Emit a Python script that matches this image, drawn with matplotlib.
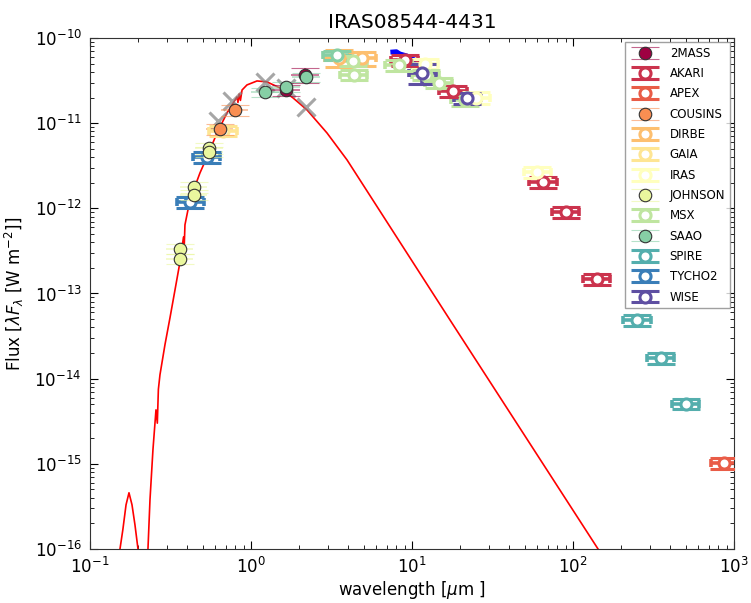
import numpy as np
import matplotlib
matplotlib.use("Agg")
import matplotlib.pyplot as plt
from matplotlib.ticker import FixedLocator, LogLocator, NullFormatter

# ---------------- data (wavelength in micron, flux in W m^-2) ----------------
names = ['2MASS', 'AKARI', 'APEX', 'COUSINS', 'DIRBE', 'GAIA', 'IRAS',
         'JOHNSON', 'MSX', 'SAAO', 'SPIRE', 'TYCHO2', 'WISE']

mass2_wl = [1.65, 2.16]
mass2_f = [2.45e-11, 3.68e-11]
mass2_e = [0.35e-11, 0.75e-11]

akari_wl = [9.0, 18.0, 65.0, 90.0, 140.0]
akari_f = [5.5e-11, 2.39e-11, 2.04e-12, 9.1e-13, 1.48e-13]
akari_e = [0.8e-11, 0.34e-11, 0.29e-12, 1.3e-13, 0.21e-13]

apex_wl = [870.0]
apex_f = [1.03e-15]
apex_e = [0.15e-15]

cousins_wl = [0.64, 0.79]
cousins_f = [8.55e-12, 1.43e-11]
cousins_e = [1.3e-12, 2.1e-12]

dirbe_wl = [3.5, 4.9]
dirbe_f = [5.9e-11, 5.8e-11]
dirbe_e = [1.3e-11, 1.1e-11]

gaia_wl = [0.67]
gaia_f = [8.1e-12]
gaia_e = [1.1e-12]

iras_wl = [12.0, 25.0, 60.0]
iras_f = [5.0e-11, 2.0e-11, 2.67e-12]
iras_e = [0.7e-11, 0.3e-11, 0.38e-12]

johnson_wl = [0.36, 0.36, 0.44, 0.44, 0.55, 0.55]
johnson_f = [3.33e-13, 2.55e-13, 1.78e-12, 1.44e-12, 5.1e-12, 4.6e-12]
johnson_e = [0.45e-13, 0.35e-13, 0.25e-12, 0.2e-12, 0.7e-12, 0.6e-12]

msx_wl = [4.29, 4.35, 8.28, 12.13, 14.65, 21.3]
msx_f = [5.4e-11, 3.68e-11, 4.8e-11, 3.7e-11, 2.96e-11, 1.87e-11]
msx_e = [0.75e-11, 0.5e-11, 0.65e-11, 0.5e-11, 0.4e-11, 0.26e-11]

saao_wl = [1.22, 1.65, 2.2]
saao_f = [2.32e-11, 2.66e-11, 3.48e-11]
saao_e = [0.3e-11, 0.35e-11, 0.45e-11]
saaoL_wl = [3.4]
saaoL_f = [6.3e-11]
saaoL_e = [0.8e-11]

spire_wl = [250.0, 350.0, 500.0]
spire_f = [4.9e-14, 1.75e-14, 5.06e-15]
spire_e = [0.7e-14, 0.25e-14, 0.7e-15]

tycho_wl = [0.42, 0.53]
tycho_f = [1.19e-12, 4.0e-12]
tycho_e = [0.17e-12, 0.55e-12]

wise_wl = [11.6, 22.1]
wise_f = [3.9e-11, 1.98e-11]
wise_e = [1.0e-11, 0.28e-11]

spec_wl = [7.6, 8.0, 8.4, 9.3, 10.4, 11.5]
spec_f = [6.85e-11, 6.9e-11, 6.5e-11, 6.15e-11, 5.5e-11, 4.7e-11]

synth_wl = [0.62, 0.76, 1.22, 1.65, 2.2]
synth_f = [1.06e-11, 1.82e-11, 3.05e-11, 2.6e-11, 1.55e-11]

model_wl = [0.149, 0.1536, 0.160, 0.1675, 0.1747, 0.1824, 0.1903, 0.1987,
            0.2045, 0.2228, 0.2292, 0.2359, 0.2461, 0.257, 0.262, 0.266,
            0.2721, 0.2922, 0.3141, 0.3373, 0.3624, 0.381, 0.385, 0.389,
            0.418, 0.482, 0.533, 0.615, 0.710, 0.819, 0.83, 0.845, 0.86,
            0.88, 0.944, 1.09, 1.257, 1.514, 1.824, 2.228, 2.965, 3.95,
            17.2, 143.0, 170.0]
model_f = [5e-17, 1.0e-16, 1.68e-16, 3.3e-16, 4.57e-16, 3.3e-16, 1.92e-16, 1.0e-16,
           5e-17, 5e-17, 1.0e-16, 3.78e-16, 1.46e-15, 4.3e-15, 3.0e-15, 7.5e-15,
           1.11e-14, 2.5e-14, 5.2e-14, 1.10e-13, 2.35e-13, 4.6e-13, 3.6e-13, 6.4e-13,
           1.26e-12, 2.6e-12, 4.0e-12, 7.67e-12, 1.32e-11, 2.03e-11, 1.75e-11, 2.2e-11, 1.85e-11,
           2.45e-11, 2.81e-11, 3.13e-11, 3.05e-11, 2.59e-11, 1.98e-11, 1.43e-11, 7.67e-12, 3.7e-12,
           4.9e-14, 1.0e-16, 6e-17]

x_major = [1e-1, 1e0, 1e1, 1e2, 1e3]
y_major = [1e-16, 1e-15, 1e-14, 1e-13, 1e-12, 1e-11, 1e-10]

# ---------------- figure ----------------
colors = dict(zip(names, plt.cm.Spectral(np.linspace(0, 1, len(names)))))

fig = plt.figure(figsize=(7.51, 6.03), dpi=100)
ax = fig.add_axes([0.1198, 0.0896, 0.8576, 0.8474])
ax.set_xscale('log')
ax.set_yscale('log')

DEX = 0.085  # half width of horizontal bars (style)


def xbars(wl):
    wl = np.asarray(wl)
    return [wl * (1 - 10 ** -DEX), wl * (10 ** DEX - 1)]


def open_series(name, wl, f, e, label=True):
    c = colors[name]
    ax.errorbar(wl, f, xerr=xbars(wl), fmt='none', ecolor=c, elinewidth=2.6,
                capsize=3.2, capthick=2.6, zorder=3)
    h = ax.errorbar(wl, f, yerr=e, fmt='o', color=c, mfc='white', mec=c,
                    mew=2.2, ms=8, elinewidth=2.6, capsize=10, capthick=2.6,
                    zorder=4, label=name if label else None)
    return h


def filled_series(name, wl, f, e):
    c = colors[name]
    ax.errorbar(wl, f, xerr=xbars(wl), fmt='none', ecolor=c, elinewidth=1.2,
                alpha=0.6, capsize=0, zorder=3)
    h = ax.errorbar(wl, f, yerr=e, fmt='o', color=c, mfc=c, mec='#333333',
                    mew=0.8, ms=9, elinewidth=1.2, capsize=10, capthick=1.2,
                    zorder=5, label=name)
    for l in h.lines[1]:
        l.set_alpha(0.6)
    for l in h.lines[2]:
        l.set_alpha(0.6)
    return h


ax.plot(model_wl, model_f, color='red', lw=1.2, zorder=2)
ax.plot(synth_wl, synth_f, 'x', color='gray', ms=13, mew=2.2, alpha=0.7, zorder=3)
ax.plot(spec_wl, spec_f, color='blue', lw=3.5, zorder=3)

filled_series('2MASS', mass2_wl, mass2_f, mass2_e)
open_series('AKARI', akari_wl, akari_f, akari_e)
open_series('APEX', apex_wl, apex_f, apex_e)
filled_series('COUSINS', cousins_wl, cousins_f, cousins_e)
open_series('DIRBE', dirbe_wl, dirbe_f, dirbe_e)
open_series('GAIA', gaia_wl, gaia_f, gaia_e)
open_series('IRAS', iras_wl, iras_f, iras_e)
filled_series('JOHNSON', johnson_wl, johnson_f, johnson_e)
open_series('MSX', msx_wl, msx_f, msx_e)
filled_series('SAAO', saao_wl, saao_f, saao_e)
open_series('SAAO', saaoL_wl, saaoL_f, saaoL_e, label=False)
open_series('SPIRE', spire_wl, spire_f, spire_e)
open_series('TYCHO2', tycho_wl, tycho_f, tycho_e)
open_series('WISE', wise_wl, wise_f, wise_e)

ax.set_xlim(0.1, 1000)
ax.set_ylim(1e-16, 1e-10)
ax.xaxis.set_major_locator(FixedLocator(x_major))
ax.yaxis.set_major_locator(FixedLocator(y_major))
ax.xaxis.set_minor_locator(LogLocator(base=10, subs=np.arange(2, 10), numticks=20))
ax.yaxis.set_minor_locator(LogLocator(base=10, subs=np.arange(2, 10), numticks=20))
ax.xaxis.set_minor_formatter(NullFormatter())
ax.yaxis.set_minor_formatter(NullFormatter())

ax.set_title('IRAS08544-4431', fontsize=14.5, pad=7)
ax.set_xlabel(r'wavelength [$\mu$m ]', fontsize=12, labelpad=1)
ax.set_ylabel(r'Flux [$\lambda F_{\lambda}$ [W m$^{-2}$]]', fontsize=12, labelpad=6)
ax.tick_params(which='both', direction='in', top=True, right=True, labelsize=12)
ax.tick_params(which='major', length=6, pad=6)
ax.tick_params(which='minor', length=3)
for s in ax.spines.values():
    s.set_color('#333333')

leg = ax.legend(loc='upper right', fontsize=8.5, labelspacing=0.62,
                handlelength=2.6, borderaxespad=0.35, frameon=True,
                fancybox=False, edgecolor='#888888', numpoints=1)

fig.savefig('out.png', dpi=100, facecolor='white')
